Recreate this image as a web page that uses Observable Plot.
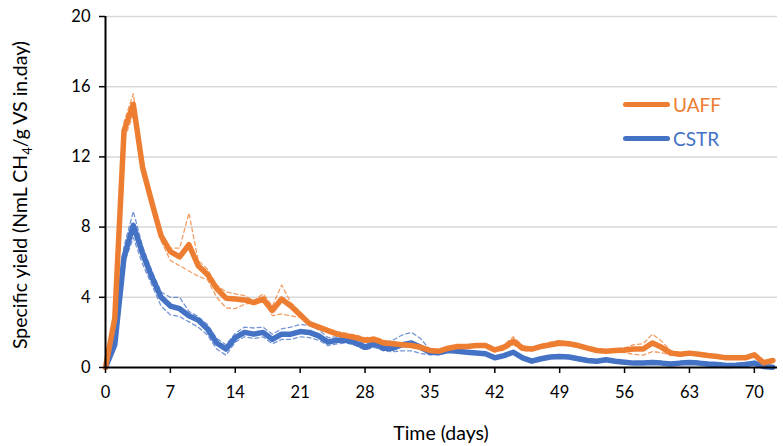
<!DOCTYPE html>
<html>
<head>
<meta charset="utf-8">
<script src="https://cdn.jsdelivr.net/npm/d3@7"></script>
<script src="https://cdn.jsdelivr.net/npm/@observablehq/plot@0.6"></script>
<style>
  body { margin: 0; background: #fff; font-family: Lato, "Open Sans", sans-serif; }
  #chart { position: relative; width: 783px; height: 446px; }
  .legend { position: absolute; left: 623px; font-size: 19px; line-height: 1; }
  .legend .item { position: absolute; left: 0; display: flex; align-items: center; white-space: nowrap; }
  .legend .swatch { width: 47px; height: 5px; border-radius: 3px; margin-right: 3px; }
</style>
</head>
<body>
<div id="chart"></div>
<script>
// Sampling days
const days = [0,1,2,3,4,5,6,7,8,9,10,11,12,13,14,15,16,17,18,19,20,21,22,23,24,25,26,27,28,29,30,31,32,33,34,35,36,37,38,39,40,41,42,43,44,45,46,47,48,49,50,51,52,53,54,55,56,57,58,59,60,61,62,63,64,65,66,67,68,69,70,71,72];

const seriesNames = ["UAFF", "CSTR"];
const seriesColors = ["#ED7D31", "#4472C4"];

// UAFF specific methane yield (mean, upper and lower bound)
const uaffMean = [0,2.8,13.5,15.0,11.4,9.4,7.5,6.6,6.3,7.0,5.8,5.3,4.5,3.95,3.9,3.85,3.7,3.9,3.25,3.9,3.5,3.0,2.5,2.3,2.1,1.9,1.8,1.7,1.55,1.6,1.4,1.35,1.3,1.25,1.15,0.97,0.93,1.1,1.2,1.2,1.25,1.25,1.0,1.15,1.5,1.1,1.05,1.2,1.3,1.4,1.35,1.25,1.1,0.97,0.93,0.97,1.0,1.05,1.05,1.4,1.15,0.82,0.75,0.82,0.75,0.68,0.63,0.55,0.55,0.55,0.72,0.27,0.4];
const uaffUpper = [0,3.2,14.0,15.6,11.8,9.6,7.6,6.8,6.8,8.8,6.1,5.6,4.7,4.3,4.2,4.1,3.8,4.2,3.5,4.7,3.7,3.15,2.6,2.4,2.2,2.05,1.95,1.85,1.7,1.75,1.55,1.45,1.4,1.35,1.25,1.05,1.0,1.15,1.25,1.25,1.35,1.35,1.1,1.3,1.75,1.25,1.15,1.3,1.45,1.55,1.45,1.35,1.2,1.05,1.0,1.05,1.1,1.3,1.35,1.9,1.5,0.95,0.85,0.9,0.82,0.75,0.7,0.62,0.6,0.6,0.8,0.3,0.45];
const uaffLower = [0,2.4,13.0,14.4,11.0,9.1,7.2,6.1,5.8,5.5,5.2,5.0,4.0,3.4,3.35,3.6,3.7,3.9,2.95,3.05,2.95,2.85,2.4,2.2,2.0,1.8,1.7,1.6,1.45,1.5,1.3,1.25,1.2,1.15,1.05,0.9,0.88,1.05,1.15,1.15,1.15,1.15,0.9,1.0,1.3,0.95,0.95,1.1,1.2,1.25,1.25,1.15,1.0,0.9,0.86,0.9,0.85,0.75,0.7,0.9,0.85,0.7,0.65,0.75,0.68,0.62,0.56,0.5,0.5,0.5,0.65,0.24,0.35];

// CSTR specific methane yield (mean, upper and lower bound)
const cstrMean = [0,1.3,6.3,8.1,6.5,5.15,4.0,3.5,3.35,2.95,2.7,2.2,1.4,1.05,1.7,2.0,1.9,2.0,1.6,1.9,1.9,2.05,2.0,1.8,1.45,1.55,1.55,1.4,1.15,1.35,1.1,1.1,1.3,1.4,1.15,0.87,0.85,0.97,0.93,0.87,0.82,0.78,0.55,0.68,0.87,0.55,0.36,0.5,0.6,0.63,0.6,0.5,0.4,0.36,0.44,0.36,0.3,0.25,0.25,0.28,0.25,0.2,0.25,0.28,0.25,0.2,0.17,0.11,0.13,0.17,0.25,0.06,0.02];
const cstrUpper = [0,1.5,6.9,8.9,6.9,5.5,4.3,4.0,4.0,3.2,2.9,2.45,1.65,1.3,1.95,2.3,2.25,2.3,1.9,2.2,2.3,2.45,2.4,2.15,1.7,1.75,1.7,1.55,1.35,1.55,1.4,1.55,1.85,2.0,1.65,1.0,0.95,1.05,1.0,0.95,0.9,0.85,0.65,0.75,0.95,0.6,0.42,0.55,0.65,0.68,0.65,0.55,0.45,0.4,0.48,0.4,0.34,0.29,0.29,0.32,0.29,0.24,0.29,0.32,0.29,0.24,0.21,0.15,0.17,0.21,0.29,0.09,0.04];
const cstrLower = [0,1.1,5.9,7.4,5.9,4.7,3.5,3.0,2.9,2.6,2.3,1.85,1.05,0.7,1.45,1.75,1.65,1.75,1.35,1.6,1.6,1.75,1.7,1.55,1.25,1.35,1.4,1.25,1.0,1.15,0.95,0.9,0.95,0.95,0.8,0.72,0.72,0.88,0.85,0.8,0.75,0.7,0.48,0.6,0.8,0.5,0.3,0.45,0.55,0.58,0.55,0.45,0.35,0.32,0.4,0.32,0.26,0.21,0.21,0.24,0.21,0.16,0.21,0.24,0.21,0.16,0.13,0.08,0.1,0.13,0.21,0.04,0.01];

const xTicks = [0,7,14,21,28,35,42,49,56,63,70];
const yTicks = [0,4,8,12,16,20];

// Long-format rows for the library
const mainRows = [];
const boundRows = [];
const addSeries = (name, mean, upper, lower) => {
  days.forEach((d, i) => {
    mainRows.push({series: name, day: d, value: mean[i]});
    boundRows.push({series: name, key: name + "-upper", day: d, value: upper[i]});
    boundRows.push({series: name, key: name + "-lower", day: d, value: lower[i]});
  });
};
// CSTR first so the UAFF line sits on top
addSeries("CSTR", cstrMean, cstrUpper, cstrLower);
addSeries("UAFF", uaffMean, uaffUpper, uaffLower);

const font = "Lato, 'Open Sans', sans-serif";

const chart = Plot.plot({
  width: 783,
  height: 446,
  marginLeft: 105,
  marginRight: 6,
  marginTop: 16,
  marginBottom: 79,
  style: {fontFamily: font, fontSize: "16px", color: "#000", background: "#fff", overflow: "visible"},
  x: {domain: [0, 72.5]},
  y: {domain: [0, 20]},
  color: {domain: seriesNames, range: seriesColors},
  marks: [
    Plot.gridY(yTicks.filter(t => t > 0), {stroke: "#d9d9d9", strokeOpacity: 1, strokeWidth: 1.5}),
    Plot.line(boundRows, {
      x: "day", y: "value", z: "key", stroke: "series",
      strokeWidth: 1.3, strokeDasharray: "4,3", strokeOpacity: 0.75
    }),
    Plot.line(mainRows, {
      x: "day", y: "value", z: "series", stroke: "series",
      strokeWidth: 5.5, strokeLinejoin: "round", strokeLinecap: "round"
    }),
    Plot.ruleX([0], {stroke: "#000", strokeWidth: 2}),
    Plot.ruleY([0], {stroke: "#000", strokeWidth: 2}),
    Plot.axisX({ticks: xTicks, tickSize: 6, tickPadding: 13, label: null, fontSize: 16.5, stroke: "#000", strokeWidth: 1.5}),
    Plot.axisY({ticks: yTicks, tickSize: 6, tickPadding: 9, label: null, fontSize: 16.5, stroke: "#000", strokeWidth: 1.5})
  ]
});

// Axis titles
const svg = d3.select(chart);
svg.append("text")
  .attr("x", 441).attr("y", 440)
  .attr("text-anchor", "middle")
  .attr("font-size", 19.5)
  .attr("font-family", font)
  .attr("fill", "#000")
  .text("Time (days)");

const yTitle = svg.append("text")
  .attr("transform", "translate(27,195) rotate(-90)")
  .attr("text-anchor", "middle")
  .attr("font-size", 19.5)
  .attr("font-family", font)
  .attr("fill", "#000");
yTitle.append("tspan").text("Specific yield (NmL CH");
yTitle.append("tspan").attr("font-size", 13).attr("dy", 5).text("4");
yTitle.append("tspan").attr("dy", -5).text("/g VS in.day)");

const container = document.getElementById("chart");
container.appendChild(chart);

// Legend
const legend = document.createElement("div");
legend.className = "legend";
legend.style.top = "0px";
const legendY = [104, 138];
seriesNames.forEach((name, i) => {
  const item = document.createElement("div");
  item.className = "item";
  item.style.top = (legendY[i] - 11) + "px";
  item.style.height = "22px";
  const sw = document.createElement("span");
  sw.className = "swatch";
  sw.style.background = seriesColors[i];
  const label = document.createElement("span");
  label.textContent = name;
  label.style.color = seriesColors[i];
  item.appendChild(sw);
  item.appendChild(label);
  legend.appendChild(item);
});
container.appendChild(legend);
</script>
</body>
</html>
